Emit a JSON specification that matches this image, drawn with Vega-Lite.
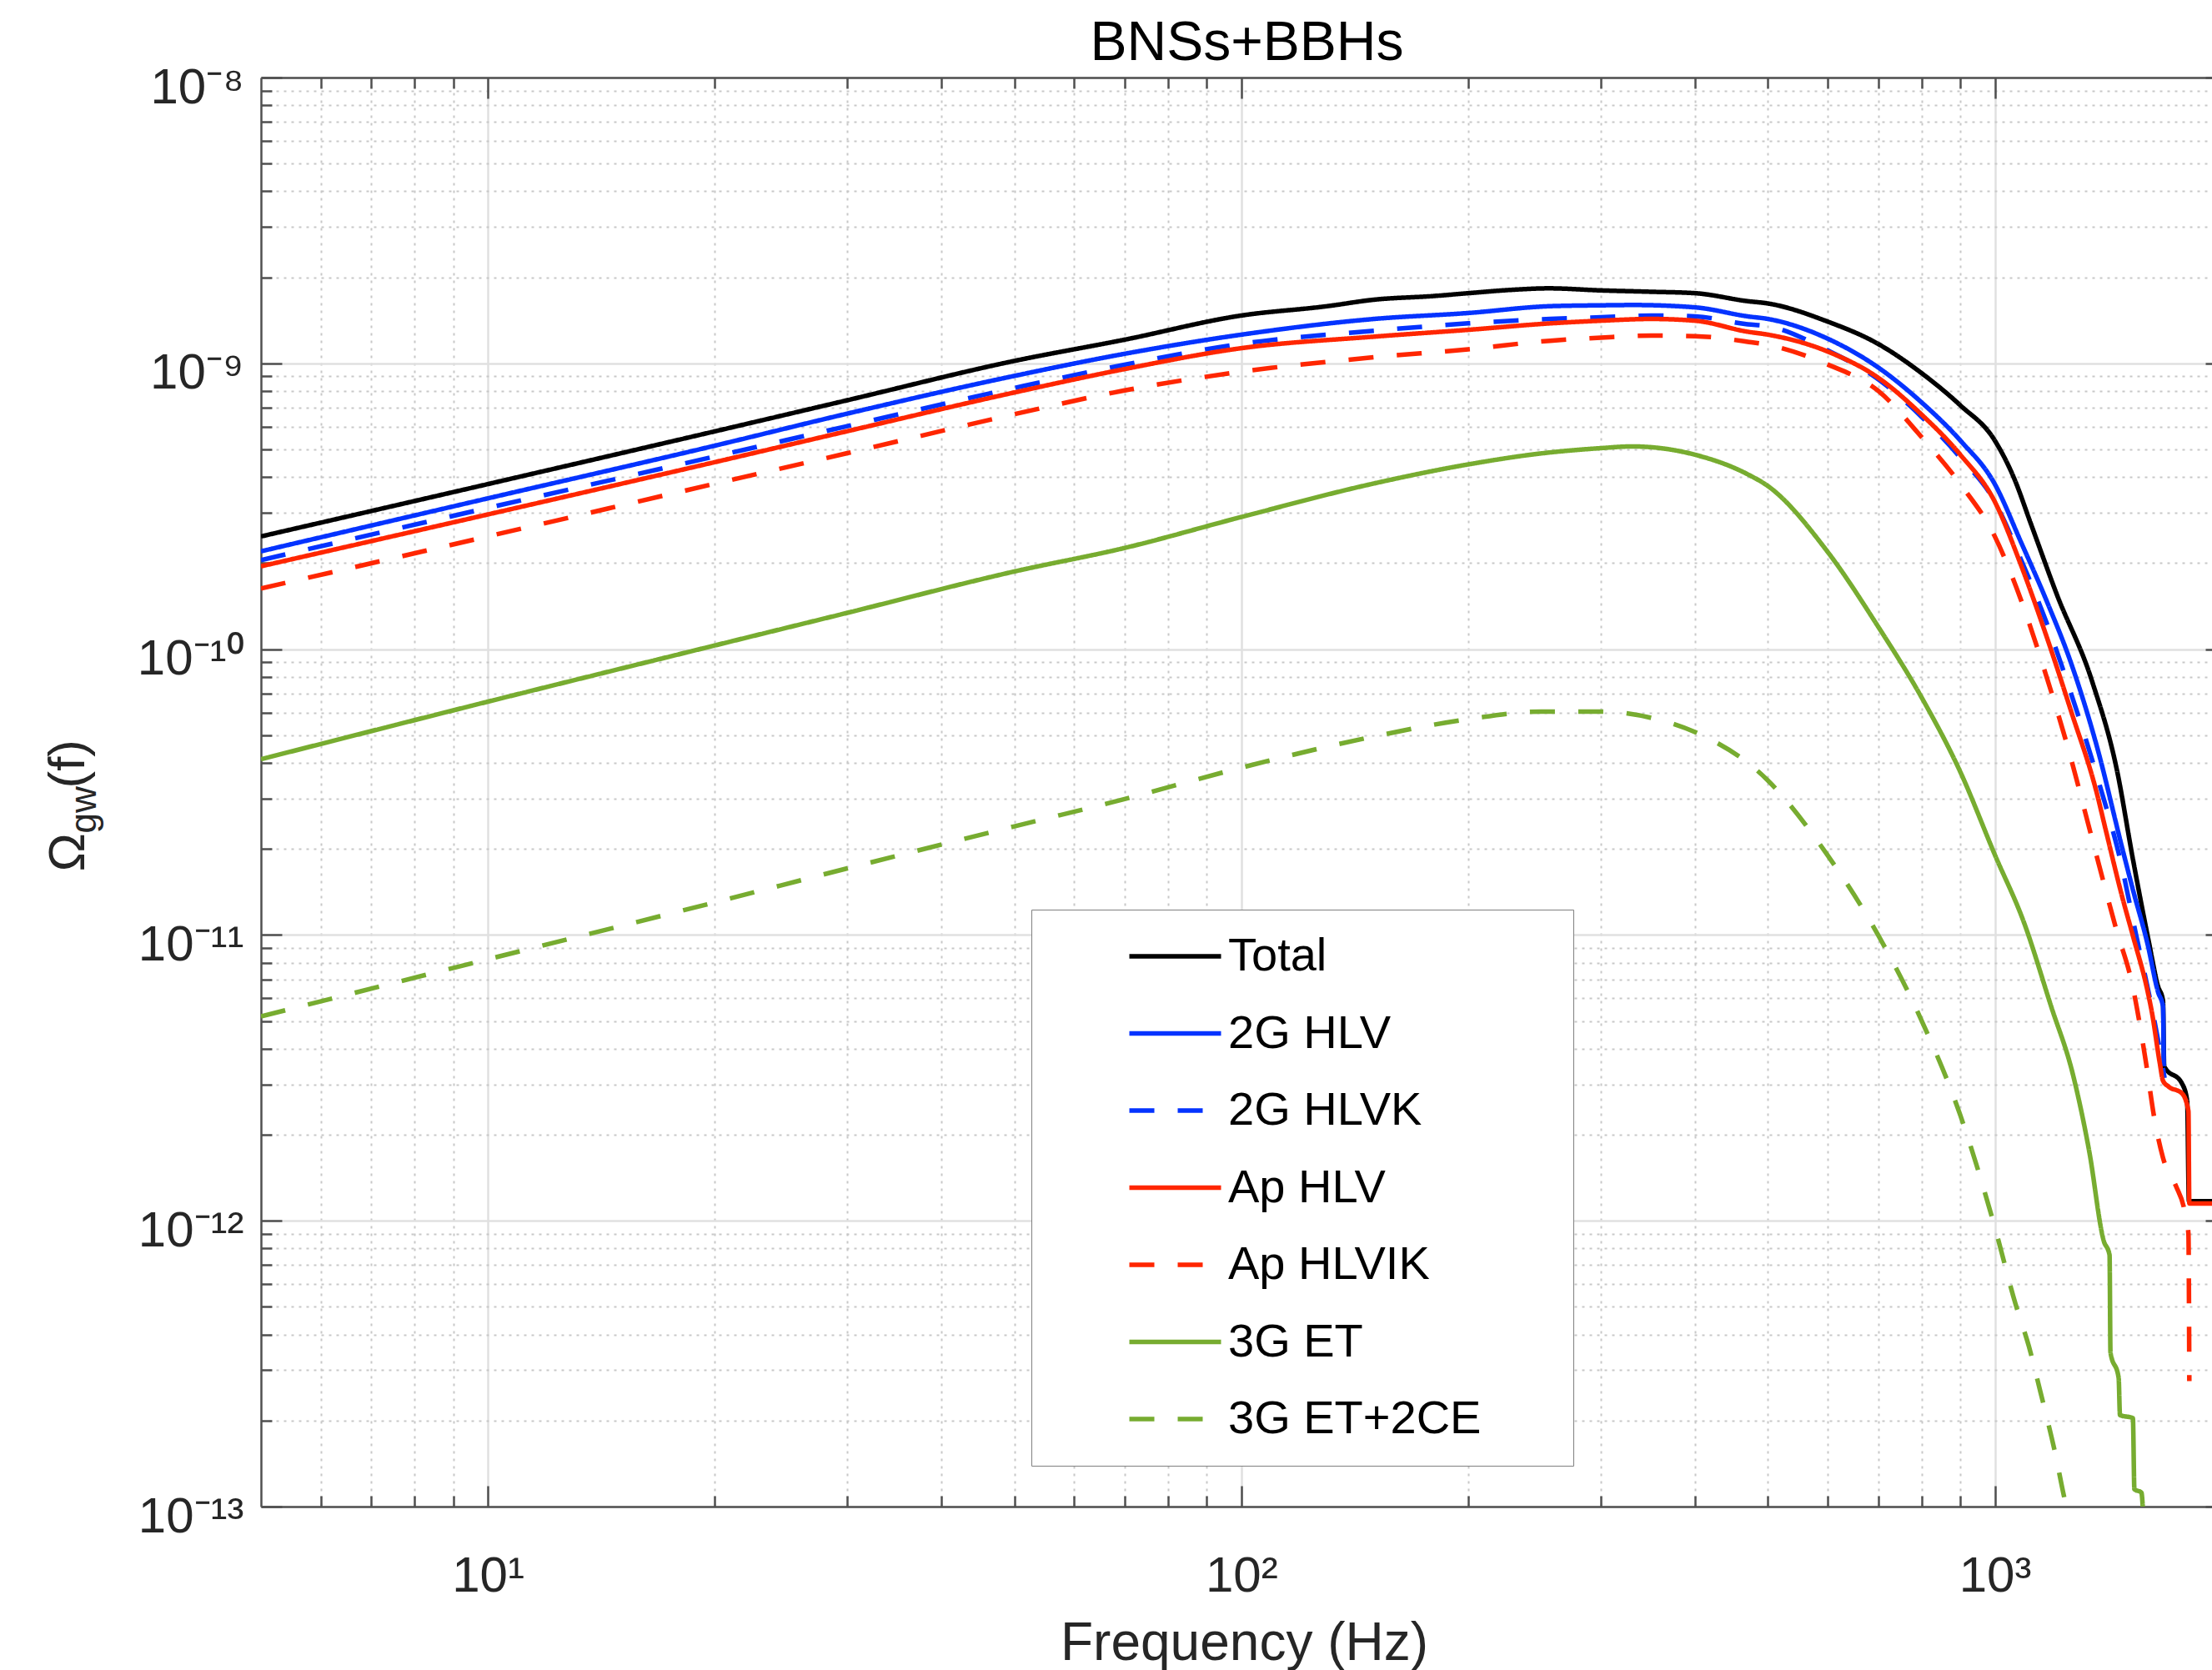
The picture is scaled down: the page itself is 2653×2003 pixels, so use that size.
{
  "$schema": "https://vega.github.io/schema/vega-lite/v6.json",
  "width": 2340,
  "height": 1714,
  "autosize": {"type": "none"},
  "padding": {"left": 313, "top": 93, "right": 0, "bottom": 196},
  "background": "white",
  "data": {"values": [
    {"s":"Total","f":5,"v":2.48e-10},{"s":"Total","f":10,"v":3.78e-10},{"s":"Total","f":20,"v":5.78e-10},{"s":"Total","f":30,"v":7.43e-10},{"s":"Total","f":50,"v":1.02e-9},{"s":"Total","f":70,"v":1.21e-9},{"s":"Total","f":100,"v":1.47e-9},{"s":"Total","f":130,"v":1.585e-9},{"s":"Total","f":150,"v":1.67e-9},{"s":"Total","f":180,"v":1.72e-9},{"s":"Total","f":200,"v":1.76e-9},{"s":"Total","f":230,"v":1.81e-9},{"s":"Total","f":256,"v":1.83e-9},{"s":"Total","f":300,"v":1.80e-9},{"s":"Total","f":350,"v":1.78e-9},{"s":"Total","f":400,"v":1.76e-9},{"s":"Total","f":470,"v":1.65e-9},{"s":"Total","f":500,"v":1.62e-9},{"s":"Total","f":600,"v":1.40e-9},{"s":"Total","f":700,"v":1.17e-9},{"s":"Total","f":800,"v":9.23e-10},{"s":"Total","f":900,"v":7.13e-10},{"s":"Total","f":1000,"v":5.37e-10},{"s":"Total","f":1060,"v":3.98e-10},{"s":"Total","f":1118,"v":2.72e-10},{"s":"Total","f":1208,"v":1.56e-10},{"s":"Total","f":1346,"v":7.73e-11},{"s":"Total","f":1454,"v":3.72e-11},{"s":"Total","f":1524,"v":1.86e-11},{"s":"Total","f":1600,"v":9.55e-12},{"s":"Total","f":1647,"v":6.61e-12},{"s":"Total","f":1672,"v":5.89e-12},{"s":"Total","f":1678,"v":3.47e-12},{"s":"Total","f":1772,"v":3.02e-12},{"s":"Total","f":1800,"v":2.63e-12},{"s":"Total","f":1810,"v":1.17e-12},{"s":"Total","f":1945,"v":1.17e-12},
    {"s":"2G HLV","f":5,"v":2.20e-10},{"s":"2G HLV","f":10,"v":3.37e-10},{"s":"2G HLV","f":20,"v":5.15e-10},{"s":"2G HLV","f":30,"v":6.67e-10},{"s":"2G HLV","f":50,"v":9.04e-10},{"s":"2G HLV","f":70,"v":1.08e-9},{"s":"2G HLV","f":100,"v":1.26e-9},{"s":"2G HLV","f":150,"v":1.43e-9},{"s":"2G HLV","f":200,"v":1.50e-9},{"s":"2G HLV","f":257,"v":1.585e-9},{"s":"2G HLV","f":300,"v":1.596e-9},{"s":"2G HLV","f":332,"v":1.60e-9},{"s":"2G HLV","f":400,"v":1.57e-9},{"s":"2G HLV","f":470,"v":1.46e-9},{"s":"2G HLV","f":500,"v":1.43e-9},{"s":"2G HLV","f":600,"v":1.22e-9},{"s":"2G HLV","f":700,"v":9.68e-10},{"s":"2G HLV","f":800,"v":7.29e-10},{"s":"2G HLV","f":900,"v":5.37e-10},{"s":"2G HLV","f":1000,"v":3.78e-10},{"s":"2G HLV","f":1084,"v":2.36e-10},{"s":"2G HLV","f":1171,"v":1.48e-10},{"s":"2G HLV","f":1263,"v":8.91e-11},{"s":"2G HLV","f":1366,"v":4.57e-11},{"s":"2G HLV","f":1477,"v":2.00e-11},{"s":"2G HLV","f":1524,"v":1.45e-11},{"s":"2G HLV","f":1596,"v":9.23e-12},{"s":"2G HLV","f":1647,"v":6.31e-12},{"s":"2G HLV","f":1672,"v":5.62e-12},{"s":"2G HLV","f":1676,"v":3.47e-12},
    {"s":"2G HLVK","f":5,"v":2.05e-10},{"s":"2G HLVK","f":10,"v":3.12e-10},{"s":"2G HLVK","f":20,"v":4.72e-10},{"s":"2G HLVK","f":30,"v":6.03e-10},{"s":"2G HLVK","f":50,"v":8.20e-10},{"s":"2G HLVK","f":70,"v":9.89e-10},{"s":"2G HLVK","f":100,"v":1.17e-9},{"s":"2G HLVK","f":150,"v":1.30e-9},{"s":"2G HLVK","f":200,"v":1.38e-9},{"s":"2G HLVK","f":257,"v":1.43e-9},{"s":"2G HLVK","f":300,"v":1.45e-9},{"s":"2G HLVK","f":350,"v":1.47e-9},{"s":"2G HLVK","f":400,"v":1.46e-9},{"s":"2G HLVK","f":470,"v":1.37e-9},{"s":"2G HLVK","f":500,"v":1.35e-9},{"s":"2G HLVK","f":600,"v":1.11e-9},{"s":"2G HLVK","f":700,"v":8.81e-10},{"s":"2G HLVK","f":800,"v":6.49e-10},{"s":"2G HLVK","f":900,"v":4.68e-10},{"s":"2G HLVK","f":1000,"v":3.28e-10},{"s":"2G HLVK","f":1084,"v":2.05e-10},{"s":"2G HLVK","f":1171,"v":1.24e-10},{"s":"2G HLVK","f":1263,"v":6.97e-11},{"s":"2G HLVK","f":1366,"v":3.61e-11},{"s":"2G HLVK","f":1477,"v":1.70e-11},{"s":"2G HLVK","f":1540,"v":1.0e-11},{"s":"2G HLVK","f":1600,"v":6.31e-12},{"s":"2G HLVK","f":1650,"v":4.17e-12},{"s":"2G HLVK","f":1680,"v":3.16e-12},
    {"s":"Ap HLV","f":5,"v":1.95e-10},{"s":"Ap HLV","f":10,"v":2.96e-10},{"s":"Ap HLV","f":20,"v":4.51e-10},{"s":"Ap HLV","f":30,"v":5.79e-10},{"s":"Ap HLV","f":50,"v":7.91e-10},{"s":"Ap HLV","f":70,"v":9.55e-10},{"s":"Ap HLV","f":100,"v":1.13e-9},{"s":"Ap HLV","f":150,"v":1.24e-9},{"s":"Ap HLV","f":200,"v":1.31e-9},{"s":"Ap HLV","f":257,"v":1.38e-9},{"s":"Ap HLV","f":300,"v":1.41e-9},{"s":"Ap HLV","f":350,"v":1.43e-9},{"s":"Ap HLV","f":400,"v":1.41e-9},{"s":"Ap HLV","f":470,"v":1.29e-9},{"s":"Ap HLV","f":500,"v":1.26e-9},{"s":"Ap HLV","f":600,"v":1.10e-9},{"s":"Ap HLV","f":700,"v":8.91e-10},{"s":"Ap HLV","f":800,"v":6.61e-10},{"s":"Ap HLV","f":900,"v":4.79e-10},{"s":"Ap HLV","f":1000,"v":3.28e-10},{"s":"Ap HLV","f":1084,"v":1.96e-10},{"s":"Ap HLV","f":1171,"v":1.11e-10},{"s":"Ap HLV","f":1263,"v":6.05e-11},{"s":"Ap HLV","f":1366,"v":3.13e-11},{"s":"Ap HLV","f":1403,"v":2.34e-11},{"s":"Ap HLV","f":1477,"v":1.35e-11},{"s":"Ap HLV","f":1524,"v":1.0e-11},{"s":"Ap HLV","f":1596,"v":6.31e-12},{"s":"Ap HLV","f":1616,"v":5.37e-12},{"s":"Ap HLV","f":1656,"v":3.55e-12},{"s":"Ap HLV","f":1672,"v":3.09e-12},{"s":"Ap HLV","f":1700,"v":2.95e-12},{"s":"Ap HLV","f":1772,"v":2.79e-12},{"s":"Ap HLV","f":1807,"v":2.42e-12},{"s":"Ap HLV","f":1812,"v":1.15e-12},{"s":"Ap HLV","f":1945,"v":1.15e-12},
    {"s":"Ap HLVIK","f":5,"v":1.63e-10},{"s":"Ap HLVIK","f":10,"v":2.48e-10},{"s":"Ap HLVIK","f":20,"v":3.79e-10},{"s":"Ap HLVIK","f":30,"v":4.85e-10},{"s":"Ap HLVIK","f":50,"v":6.64e-10},{"s":"Ap HLVIK","f":70,"v":8.04e-10},{"s":"Ap HLVIK","f":100,"v":9.35e-10},{"s":"Ap HLVIK","f":150,"v":1.05e-9},{"s":"Ap HLVIK","f":200,"v":1.12e-9},{"s":"Ap HLVIK","f":257,"v":1.20e-9},{"s":"Ap HLVIK","f":300,"v":1.23e-9},{"s":"Ap HLVIK","f":350,"v":1.25e-9},{"s":"Ap HLVIK","f":400,"v":1.245e-9},{"s":"Ap HLVIK","f":470,"v":1.19e-9},{"s":"Ap HLVIK","f":500,"v":1.16e-9},{"s":"Ap HLVIK","f":600,"v":9.91e-10},{"s":"Ap HLVIK","f":700,"v":8.02e-10},{"s":"Ap HLVIK","f":800,"v":5.51e-10},{"s":"Ap HLVIK","f":900,"v":3.78e-10},{"s":"Ap HLVIK","f":1000,"v":2.48e-10},{"s":"Ap HLVIK","f":1084,"v":1.48e-10},{"s":"Ap HLVIK","f":1171,"v":8.02e-11},{"s":"Ap HLVIK","f":1249,"v":4.57e-11},{"s":"Ap HLVIK","f":1345,"v":2.19e-11},{"s":"Ap HLVIK","f":1449,"v":1.05e-11},{"s":"Ap HLVIK","f":1524,"v":6.61e-12},{"s":"Ap HLVIK","f":1588,"v":3.55e-12},{"s":"Ap HLVIK","f":1628,"v":2.29e-12},{"s":"Ap HLVIK","f":1672,"v":1.66e-12},{"s":"Ap HLVIK","f":1740,"v":1.32e-12},{"s":"Ap HLVIK","f":1784,"v":1.10e-12},{"s":"Ap HLVIK","f":1807,"v":9.02e-13},{"s":"Ap HLVIK","f":1812,"v":2.75e-13},
    {"s":"3G ET","f":5,"v":4.12e-11},{"s":"3G ET","f":10,"v":6.55e-11},{"s":"3G ET","f":20,"v":1.03e-10},{"s":"3G ET","f":30,"v":1.34e-10},{"s":"3G ET","f":50,"v":1.87e-10},{"s":"3G ET","f":70,"v":2.26e-10},{"s":"3G ET","f":100,"v":2.90e-10},{"s":"3G ET","f":150,"v":3.80e-10},{"s":"3G ET","f":200,"v":4.43e-10},{"s":"3G ET","f":250,"v":4.84e-10},{"s":"3G ET","f":300,"v":5.05e-10},{"s":"3G ET","f":330,"v":5.12e-10},{"s":"3G ET","f":400,"v":4.79e-10},{"s":"3G ET","f":470,"v":4.09e-10},{"s":"3G ET","f":500,"v":3.72e-10},{"s":"3G ET","f":600,"v":2.19e-10},{"s":"3G ET","f":700,"v":1.20e-10},{"s":"3G ET","f":800,"v":6.76e-11},{"s":"3G ET","f":900,"v":3.72e-11},{"s":"3G ET","f":1000,"v":1.91e-11},{"s":"3G ET","f":1094,"v":1.10e-11},{"s":"3G ET","f":1188,"v":5.62e-12},{"s":"3G ET","f":1270,"v":3.24e-12},{"s":"3G ET","f":1335,"v":1.74e-12},{"s":"3G ET","f":1395,"v":8.51e-13},{"s":"3G ET","f":1420,"v":7.59e-13},{"s":"3G ET","f":1424,"v":3.47e-13},{"s":"3G ET","f":1460,"v":2.82e-13},{"s":"3G ET","f":1466,"v":2.09e-13},{"s":"3G ET","f":1525,"v":2.04e-13},{"s":"3G ET","f":1532,"v":1.15e-13},{"s":"3G ET","f":1565,"v":1.12e-13},{"s":"3G ET","f":1575,"v":9e-14},
    {"s":"3G ET+2CE","f":5,"v":5.19e-12},{"s":"3G ET+2CE","f":10,"v":8.22e-12},{"s":"3G ET+2CE","f":20,"v":1.30e-11},{"s":"3G ET+2CE","f":30,"v":1.71e-11},{"s":"3G ET+2CE","f":50,"v":2.40e-11},{"s":"3G ET+2CE","f":70,"v":2.99e-11},{"s":"3G ET+2CE","f":100,"v":3.85e-11},{"s":"3G ET+2CE","f":150,"v":4.95e-11},{"s":"3G ET+2CE","f":200,"v":5.69e-11},{"s":"3G ET+2CE","f":250,"v":6.05e-11},{"s":"3G ET+2CE","f":300,"v":6.05e-11},{"s":"3G ET+2CE","f":350,"v":5.75e-11},{"s":"3G ET+2CE","f":400,"v":5.13e-11},{"s":"3G ET+2CE","f":500,"v":3.47e-11},{"s":"3G ET+2CE","f":600,"v":1.90e-11},{"s":"3G ET+2CE","f":700,"v":1.0e-11},{"s":"3G ET+2CE","f":800,"v":5.0e-12},{"s":"3G ET+2CE","f":900,"v":2.34e-12},{"s":"3G ET+2CE","f":1000,"v":9.5e-13},{"s":"3G ET+2CE","f":1065,"v":5.13e-13},{"s":"3G ET+2CE","f":1110,"v":3.63e-13},{"s":"3G ET+2CE","f":1150,"v":2.51e-13},{"s":"3G ET+2CE","f":1200,"v":1.58e-13},{"s":"3G ET+2CE","f":1245,"v":1.0e-13},{"s":"3G ET+2CE","f":1260,"v":9e-14}
  ]},
  "resolve": {"axis": {"x": "independent", "y": "independent"}},
  "layer": [
    {
      "mark": {"type": "line", "strokeWidth": 5.5, "clip": true, "strokeJoin": "round", "interpolate": "monotone"},
      "encoding": {
        "x": {"field": "f", "type": "quantitative",
          "scale": {"type": "log", "domain": [5, 1942], "nice": false},
          "axis": {"orient": "bottom", "values": [10, 100, 1000],
            "labelExpr": "datum.value < 50 ? '10¹' : (datum.value < 500 ? '10²' : '10³')",
            "labelFontSize": 60, "labelBaseline": "alphabetic", "labelAlign": "center", "labelPadding": 126, "labelFlush": false, "labelOverlap": false,
            "tickSize": -25, "domain": true, "grid": true, "gridColor": "#e0e0e0", "gridWidth": 2.5,
            "title": "Frequency (Hz)", "titleFontSize": 64, "titleBaseline": "alphabetic", "titleAlign": "center", "titleX": 1179, "titleY": 183}},
        "y": {"field": "v", "type": "quantitative",
          "scale": {"type": "log", "domain": [1e-13, 1e-8], "nice": false},
          "axis": {"orient": "left", "values": [1e-13, 1e-12, 1e-11, 1e-10, 1e-9, 1e-8],
            "labelExpr": "['10⁻¹³','10⁻¹²','10⁻¹¹','10⁻¹⁰','10⁻⁹','10⁻⁸'][round(log(datum.value)/LN10)+13]",
            "labelFontSize": 60, "labelBaseline": "alphabetic", "labelAlign": "right", "labelOffset": 30, "labelPadding": 46, "labelFlush": false, "labelOverlap": false,
            "tickSize": -25, "domain": true, "grid": true, "gridColor": "#e0e0e0", "gridWidth": 2.5,
            "title": "Ω", "titleFontSize": 62, "titleAngle": 270, "titleAlign": "left", "titleBaseline": "alphabetic", "titleX": -213, "titleY": 952}},
        "color": {"field": "s", "type": "nominal",
          "scale": {"domain": ["Total", "2G HLV", "2G HLVK", "Ap HLV", "Ap HLVIK", "3G ET", "3G ET+2CE"],
            "range": ["#000000", "#0433ff", "#0433ff", "#ff2600", "#ff2600", "#77ac30", "#77ac30"]},
          "legend": {"orient": "none", "legendX": 924, "legendY": 998, "title": null,
            "symbolType": "stroke", "symbolSize": 12100, "symbolStrokeWidth": 5.5, "symbolOffset": 86.5, "labelOffset": 5.5,
            "clipHeight": 56, "rowPadding": 36.5, "padding": 28,
            "strokeColor": "#808080", "fillColor": "#ffffff",
            "labelFont": "Liberation Sans", "labelFontSize": 56, "labelColor": "#000000", "labelLimit": 2000,
            "labelExpr": "datum.label + '\u2800\u2800'"}},
        "strokeDash": {"field": "s", "type": "nominal",
          "scale": {"domain": ["Total", "2G HLV", "2G HLVK", "Ap HLV", "Ap HLVIK", "3G ET", "3G ET+2CE"],
            "range": [[1, 0], [1, 0], [30, 28], [1, 0], [30, 28], [1, 0], [30, 28]]},
          "legend": {"orient": "none", "legendX": 924, "legendY": 998, "title": null,
            "symbolType": "stroke", "symbolSize": 12100, "symbolStrokeWidth": 5.5, "symbolOffset": 86.5, "labelOffset": 5.5,
            "clipHeight": 56, "rowPadding": 36.5, "padding": 28,
            "strokeColor": "#808080", "fillColor": "#ffffff",
            "labelFont": "Liberation Sans", "labelFontSize": 56, "labelColor": "#000000", "labelLimit": 2000,
            "labelExpr": "datum.label + '\u2800\u2800'"}}
      }
    },
    {
      "mark": {"type": "point", "opacity": 0},
      "encoding": {
        "x": {"field": "f", "type": "quantitative",
          "scale": {"type": "log", "domain": [5, 1942], "nice": false},
          "axis": {"orient": "bottom", "values": [6, 7, 8, 9, 20, 30, 40, 50, 60, 70, 80, 90, 200, 300, 400, 500, 600, 700, 800, 900],
            "labels": false, "tickSize": -13, "domain": false, "grid": true, "gridColor": "#c8c8c8", "gridWidth": 2, "gridDash": [3, 6], "title": null}},
        "y": {"field": "v", "type": "quantitative",
          "scale": {"type": "log", "domain": [1e-13, 1e-8], "nice": false},
          "axis": {"orient": "left",
            "values": [2e-13, 3e-13, 4e-13, 5e-13, 6e-13, 7e-13, 8e-13, 9e-13, 2e-12, 3e-12, 4e-12, 5e-12, 6e-12, 7e-12, 8e-12, 9e-12, 2e-11, 3e-11, 4e-11, 5e-11, 6e-11, 7e-11, 8e-11, 9e-11, 2e-10, 3e-10, 4e-10, 5e-10, 6e-10, 7e-10, 8e-10, 9e-10, 2e-9, 3e-9, 4e-9, 5e-9, 6e-9, 7e-9, 8e-9, 9e-9],
            "labels": false, "tickSize": -13, "domain": false, "grid": true, "gridColor": "#c8c8c8", "gridWidth": 2, "gridDash": [3, 6],
            "title": "gw", "titleFontSize": 44, "titleAngle": 270, "titleAlign": "left", "titleBaseline": "alphabetic", "titleX": -199, "titleY": 906}}
      }
    },
    {
      "mark": {"type": "point", "opacity": 0},
      "encoding": {
        "x": {"field": "f", "type": "quantitative",
          "scale": {"type": "log", "domain": [5, 1942], "nice": false},
          "axis": {"orient": "top", "values": [10, 100, 1000], "labels": false, "tickSize": -25, "domain": true, "grid": false,
            "title": "BNSs+BBHs", "titleFontSize": 66, "titleColor": "#000000", "titleAngle": 0, "titleBaseline": "alphabetic", "titleAlign": "center", "titleX": 1182, "titleY": -22}},
        "y": {"field": "v", "type": "quantitative",
          "scale": {"type": "log", "domain": [1e-13, 1e-8], "nice": false},
          "axis": {"orient": "right", "values": [1e-13, 1e-12, 1e-11, 1e-10, 1e-9, 1e-8], "labels": false, "tickSize": -8, "domain": false, "grid": false,
            "title": "(f)", "titleFontSize": 62, "titleAngle": 270, "titleAlign": "left", "titleBaseline": "alphabetic", "titleX": -2553, "titleY": 852}}
      }
    },
    {
      "mark": {"type": "point", "opacity": 0},
      "encoding": {
        "x": {"field": "f", "type": "quantitative",
          "scale": {"type": "log", "domain": [5, 1942], "nice": false},
          "axis": {"orient": "top", "values": [6, 7, 8, 9, 20, 30, 40, 50, 60, 70, 80, 90, 200, 300, 400, 500, 600, 700, 800, 900], "labels": false, "tickSize": -13, "domain": false, "grid": false, "title": null}},
        "y": {"field": "v", "type": "quantitative",
          "scale": {"type": "log", "domain": [1e-13, 1e-8], "nice": false},
          "axis": null}
      }
    }
  ],
  "config": {
    "view": {"stroke": null},
    "font": "Liberation Sans",
    "axis": {"labelFont": "Liberation Sans", "labelColor": "#262626", "titleFont": "Liberation Sans", "titleColor": "#262626", "titleFontWeight": "normal",
      "tickColor": "#505050", "tickWidth": 2.5, "domainColor": "#505050", "domainWidth": 2.5}
  }
}
